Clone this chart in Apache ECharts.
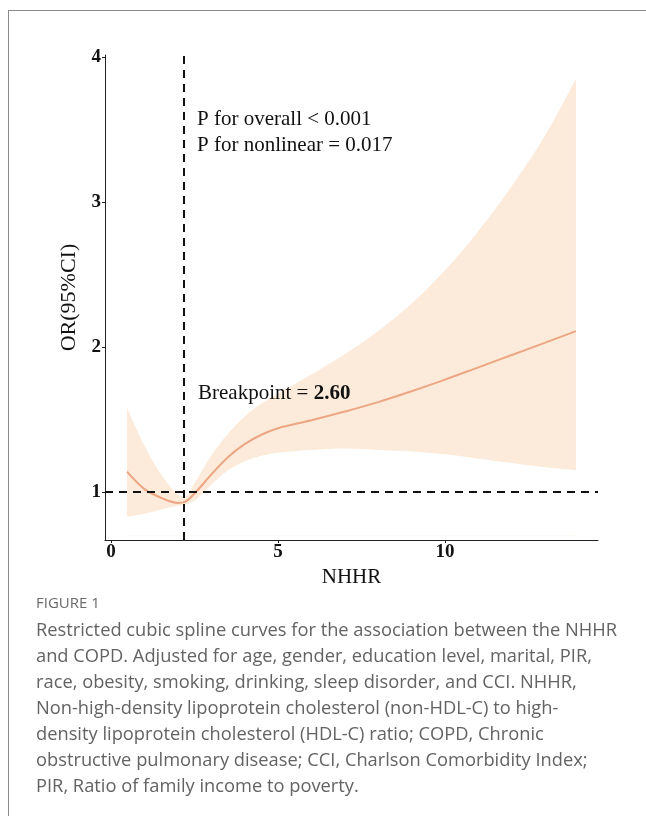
<!DOCTYPE html>
<html><head><meta charset="utf-8">
<script src="https://cdn.jsdelivr.net/npm/echarts@6/dist/echarts.min.js"></script>
<style>html,body{margin:0;padding:0;background:#fff;}#c{width:646px;height:816px;}</style>
</head><body><div id="c"></div>
<script>
const nhhr  = [0.48, 1.0, 1.5, 2.0, 2.19, 2.5, 3.0, 3.5, 4.0, 4.5, 5.0, 6.0, 7.0, 8.0, 9.0, 10.0, 11.0, 12.0, 13.0, 13.92];
const orVal = [1.14, 1.02, 0.96, 0.925, 0.93, 0.99, 1.12, 1.24, 1.33, 1.395, 1.44, 1.495, 1.555, 1.62, 1.695, 1.775, 1.86, 1.945, 2.03, 2.11];
const ciLow = [0.83, 0.85, 0.88, 0.905, 0.91, 0.94, 1.05, 1.15, 1.21, 1.25, 1.27, 1.29, 1.30, 1.29, 1.28, 1.26, 1.23, 1.20, 1.17, 1.15];
const ciUp  = [1.58, 1.32, 1.12, 0.98, 0.965, 1.06, 1.25, 1.40, 1.52, 1.61, 1.68, 1.81, 1.95, 2.11, 2.30, 2.53, 2.80, 3.11, 3.46, 3.85];
const xTicks = [0, 5, 10];
const yTicks = [1, 2, 3, 4];
const refOR = 1;
const cutX = 2.19;
const pText1 = 'P for overall < 0.001';
const pText2 = 'P for nonlinear = 0.017';
const bpLabel = 'Breakpoint = ';
const bpValue = '2.60';
const captionHead = 'FIGURE 1';
const captionLines = [
  'Restricted cubic spline curves for the association between the NHHR',
  'and COPD. Adjusted for age, gender, education level, marital, PIR,',
  'race, obesity, smoking, drinking, sleep disorder, and CCI. NHHR,',
  'Non-high-density lipoprotein cholesterol (non-HDL-C) to high-',
  'density lipoprotein cholesterol (HDL-C) ratio; COPD, Chronic',
  'obstructive pulmonary disease; CCI, Charlson Comorbidity Index;',
  'PIR, Ratio of family income to poverty.'
];

const serif = '"Liberation Serif", "Times New Roman", serif';
const sans = '"Open Sans", "Noto Sans", sans-serif';

const chart = echarts.init(document.getElementById('c'), null, {renderer: 'canvas'});

const graphics = [
  {type: 'line', z: 100, shape: {x1: 8, y1: 10.5, x2: 646, y2: 10.5}, style: {stroke: '#8a8a8a', lineWidth: 1}},
  {type: 'line', z: 100, shape: {x1: 8.5, y1: 10, x2: 8.5, y2: 816}, style: {stroke: '#8a8a8a', lineWidth: 1}},
  {type: 'text', z: 100, left: 197, top: 109, style: {text: pText1, font: '21px ' + serif, fill: '#111'}},
  {type: 'text', z: 100, left: 197, top: 135, style: {text: pText2, font: '21px ' + serif, fill: '#111'}},
  {type: 'text', z: 100, left: 198, top: 383, style: {
    text: '{a|' + bpLabel + '}{b|' + bpValue + '}',
    rich: {a: {font: '21px ' + serif, fill: '#111'}, b: {font: 'bold 21px ' + serif, fill: '#111'}}
  }},
  {type: 'text', z: 100, left: 36, top: 596, style: {text: captionHead, font: '15px ' + sans, fill: '#6a6a6a'}}
];
captionLines.forEach((t, i) => {
  graphics.push({type: 'text', z: 100, left: 36, top: 622 + i * 26, style: {text: t, font: '18.3px ' + sans, fill: '#636363'}});
});

const pairs = (ys) => nhhr.map((x, i) => [x, ys[i]]);
const bandBase = 0.7;

chart.setOption({
  animation: false,
  backgroundColor: '#fff',
  grid: {left: 105, top: 55, width: 493, height: 485, containLabel: false},
  xAxis: {
    type: 'value', min: -0.18, max: 14.58,
    name: 'NHHR', nameLocation: 'middle', nameGap: 25,
    nameTextStyle: {fontFamily: serif, fontSize: 21, color: '#111'},
    axisLine: {show: true, onZero: false, lineStyle: {color: '#222', width: 1}},
    axisTick: {show: true, length: 3, customValues: xTicks, lineStyle: {color: '#222'}},
    axisLabel: {customValues: xTicks, fontFamily: serif, fontWeight: 'bold', fontSize: 19, color: '#111', margin: 3},
    splitLine: {show: false}
  },
  yAxis: {
    type: 'value', min: 0.669, max: 4.014,
    name: 'OR(95%CI)', nameLocation: 'middle', nameGap: 19, nameRotate: 90,
    nameTextStyle: {fontFamily: serif, fontSize: 22, color: '#111'},
    axisLine: {show: true, onZero: false, lineStyle: {color: '#222', width: 1}},
    axisTick: {show: true, length: 3, customValues: yTicks, lineStyle: {color: '#222'}},
    axisLabel: {customValues: yTicks, fontFamily: serif, fontWeight: 'bold', fontSize: 19, color: '#111', margin: 4},
    splitLine: {show: false}
  },
  graphic: graphics,
  series: [
    {type: 'line', data: pairs(ciUp), smooth: 0.35, symbol: 'none',
     lineStyle: {opacity: 0}, areaStyle: {color: '#FCEBDB', opacity: 1, origin: bandBase}, silent: true, z: 1},
    {type: 'line', data: pairs(ciLow), smooth: 0.35, symbol: 'none',
     lineStyle: {opacity: 0}, areaStyle: {color: '#ffffff', opacity: 1, origin: bandBase}, silent: true, z: 1.5},
    {type: 'line', data: pairs(orVal), smooth: 0.35, symbol: 'none',
     lineStyle: {color: '#EDA684', width: 2}, z: 2,
     markLine: {
       silent: true, symbol: 'none', label: {show: false}, z: 5,
       lineStyle: {color: '#111', type: [8, 6], width: 2},
       data: [{yAxis: refOR}, {xAxis: cutX}]
     }}
  ]
});
</script></body></html>
